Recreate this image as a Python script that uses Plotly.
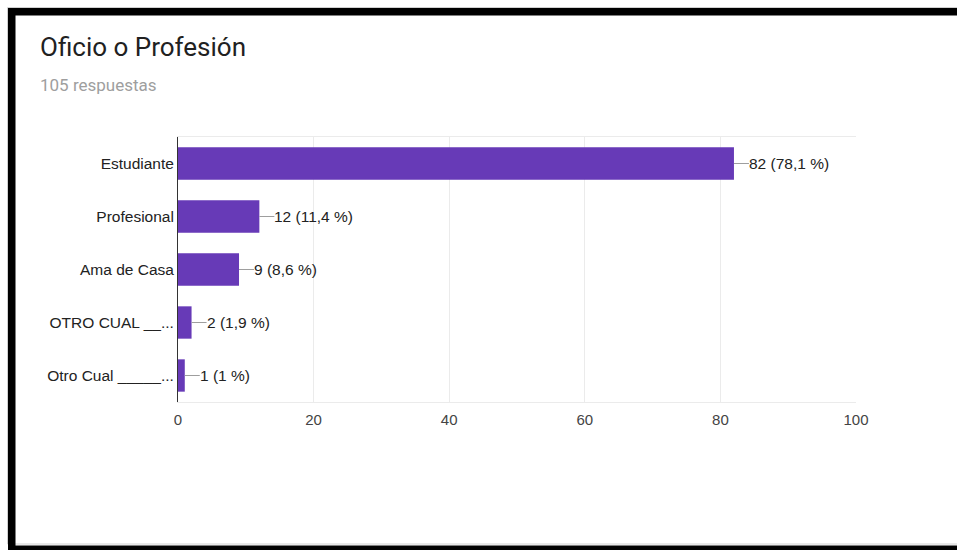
import plotly.graph_objects as go

# Survey answers: "Oficio o Profesión"
categories = ["Estudiante", "Profesional", "Ama de Casa", "OTRO CUAL __...", "Otro Cual _____..."]
counts = [82, 12, 9, 2, 1]
percent_labels = ["78,1", "11,4", "8,6", "1,9", "1"]
x_ticks = [0, 20, 40, 60, 80, 100]
title_text = "Oficio o Profesión"
subtitle_text = "105 respuestas"

W, H = 957, 550
ML, MR, MT, MB = 178, 101, 137, 148
PW, PH = W - ML - MR, H - MT - MB

BAR = "#673ab7"
TXT = "#222222"
SANS = "Arial, Liberation Sans, sans-serif"


def px_x(px):
    return (px - ML) / PW


def px_y(py):
    return (H - MB - py) / PH


fig = go.Figure(
    go.Bar(
        x=counts,
        y=categories,
        orientation="h",
        marker=dict(color=BAR, line=dict(width=0)),
        hoverinfo="skip",
    )
)

shapes = []
annotations = []

# leader line + value label at the end of each bar
for cat, v, p in zip(categories, counts, percent_labels):
    shapes.append(dict(
        type="line", xref="x", yref="y", xsizemode="pixel", xanchor=v,
        x0=0, x1=15, y0=cat, y1=cat,
        line=dict(color="#9e9e9e", width=1),
    ))
    annotations.append(dict(
        x=v, y=cat, xref="x", yref="y", xanchor="left", yanchor="middle",
        xshift=13, showarrow=False, text=f"{v} ({p} %)",
        font=dict(family=SANS, size=15.5, color=TXT),
    ))

# heading
annotations.append(dict(
    x=px_x(38), y=px_y(47), xref="paper", yref="paper",
    xanchor="left", yanchor="middle", showarrow=False, text=title_text,
    font=dict(family="Roboto, sans-serif", size=26, color="#212121"),
))
annotations.append(dict(
    x=px_x(38), y=px_y(85), xref="paper", yref="paper",
    xanchor="left", yanchor="middle", showarrow=False, text=subtitle_text,
    font=dict(family="Roboto, sans-serif", size=17, color="#9e9e9e"),
))

# frame around the card
shapes.append(dict(
    type="rect", xref="paper", yref="paper", layer="below",
    x0=px_x(7.5), x1=px_x(W + 5), y0=px_y(7.5), y1=px_y(544),
    line=dict(color="#d0d0d0", width=1), fillcolor="rgba(0,0,0,0)",
))
for x0, y0, x1, y1 in [(8, 8, 15.5, H + 5), (8, 8, W + 5, 15.5), (8, 545.5, W + 5, H + 5)]:
    shapes.append(dict(
        type="rect", xref="paper", yref="paper",
        x0=px_x(x0), x1=px_x(x1), y0=px_y(y0), y1=px_y(y1),
        line=dict(width=0), fillcolor="#000000",
    ))

fig.update_layout(
    width=W, height=H,
    margin=dict(l=ML, r=MR, t=MT, b=MB, pad=0),
    paper_bgcolor="white", plot_bgcolor="white",
    showlegend=False,
    bargap=0.39,
    shapes=shapes,
    annotations=annotations,
    xaxis=dict(
        range=[0, 100], tickvals=x_ticks, ticks="", showgrid=True,
        gridcolor="#ebebeb", gridwidth=1, zeroline=False,
        showline=True, mirror=True, linecolor="#ebebeb", linewidth=1,
        tickfont=dict(family=SANS, size=15, color="#444444"),
        ticklabelstandoff=4, fixedrange=True,
    ),
    yaxis=dict(
        autorange="reversed", ticks="", showgrid=False, zeroline=False,
        showline=True, linecolor="#333333", linewidth=1,
        tickfont=dict(family=SANS, size=15.5, color=TXT),
        ticklabelstandoff=0, fixedrange=True,
    ),
)

fig.write_html("out.html", config={"displayModeBar": False})
